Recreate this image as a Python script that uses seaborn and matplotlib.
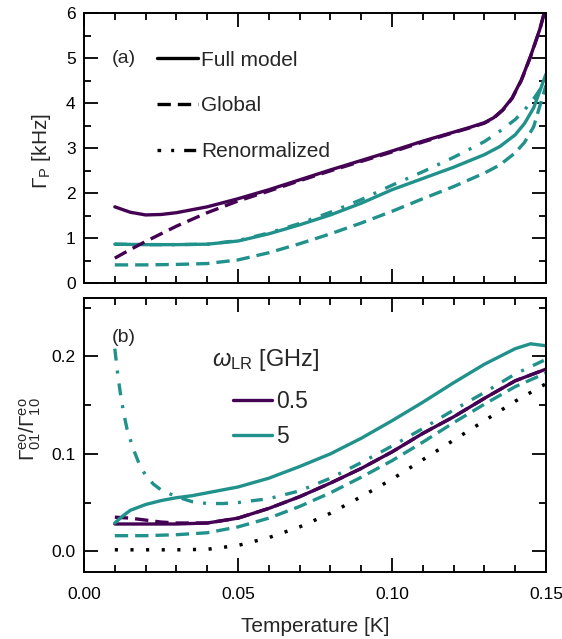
import numpy as np
import pandas as pd
import matplotlib
matplotlib.use("Agg")
import matplotlib.pyplot as plt
from matplotlib.lines import Line2D
from matplotlib.ticker import MultipleLocator, FormatStrFormatter
import seaborn as sns

sns.set_theme(style="ticks")
plt.rcParams["font.family"] = ["Liberation Sans", "DejaVu Sans"]
plt.rcParams["mathtext.fontset"] = "custom"
plt.rcParams["mathtext.rm"] = "Liberation Sans"
plt.rcParams["mathtext.it"] = "Liberation Sans:italic"
plt.rcParams["mathtext.bf"] = "Liberation Sans:bold"

PURPLE = "#440154"
TEAL = "#21918c"

# ---------------- panel (a): Gamma_P [kHz] ----------------
T_a = [0.010, 0.015, 0.020, 0.025, 0.030, 0.040, 0.050, 0.060, 0.070, 0.080,
       0.090, 0.100, 0.110, 0.120, 0.125, 0.130, 0.133, 0.136, 0.139, 0.142,
       0.145, 0.148, 0.150]
a_full_05 = [1.70, 1.58, 1.52, 1.53, 1.57, 1.70, 1.88, 2.08, 2.30, 2.52,
             2.73, 2.94, 3.16, 3.36, 3.46, 3.57, 3.68, 3.86, 4.12, 4.52,
             5.05, 5.65, 6.15]
a_glob_05 = [0.56, 0.75, 0.93, 1.10, 1.27, 1.57, 1.83, 2.05, 2.28, 2.50,
             2.71, 2.92, 3.14, 3.35, 3.45, 3.56, 3.67, 3.85, 4.11, 4.51,
             5.04, 5.64, 6.15]

T_a2 = [0.010, 0.020, 0.030, 0.040, 0.050, 0.060, 0.070, 0.080, 0.090, 0.100,
        0.110, 0.120, 0.130, 0.135, 0.140, 0.143, 0.146, 0.150]
a_full_5 = [0.87, 0.86, 0.86, 0.87, 0.94, 1.10, 1.30, 1.52, 1.78, 2.08,
            2.33, 2.58, 2.86, 3.04, 3.30, 3.55, 3.90, 4.65]
a_glob_5 = [0.41, 0.41, 0.42, 0.44, 0.52, 0.68, 0.88, 1.10, 1.34, 1.60,
            1.88, 2.15, 2.45, 2.63, 2.90, 3.13, 3.48, 4.40]
a_renorm_5 = [0.87, 0.86, 0.86, 0.87, 0.95, 1.12, 1.33, 1.58, 1.86, 2.18,
              2.48, 2.80, 3.15, 3.38, 3.64, 3.85, 4.10, 4.50]

# ---------------- panel (b): Gamma01/Gamma10 ----------------
T_b = [0.010, 0.020, 0.030, 0.040, 0.050, 0.060, 0.070, 0.080, 0.090, 0.100,
       0.110, 0.120, 0.130, 0.140, 0.150]
b_full_05 = [0.028, 0.028, 0.028, 0.029, 0.034, 0.044, 0.056, 0.070, 0.085,
             0.102, 0.121, 0.138, 0.157, 0.175, 0.187]
b_glob_05_T = [0.010, 0.015, 0.020, 0.025, 0.030, 0.040, 0.050, 0.060, 0.070,
               0.080, 0.090, 0.100, 0.110, 0.120, 0.130, 0.140, 0.150]
b_glob_05 = [0.035, 0.034, 0.032, 0.030, 0.029, 0.029, 0.034, 0.044, 0.056,
             0.070, 0.085, 0.102, 0.121, 0.138, 0.157, 0.175, 0.187]

b_full_5_T = [0.010, 0.0125, 0.015, 0.020, 0.025, 0.030, 0.035, 0.040, 0.050,
              0.060, 0.070, 0.080, 0.090, 0.100, 0.110, 0.120, 0.130, 0.140,
              0.145, 0.150]
b_full_5 = [0.029, 0.036, 0.042, 0.048, 0.052, 0.055, 0.057, 0.060, 0.066,
            0.075, 0.087, 0.100, 0.116, 0.134, 0.153, 0.173, 0.192, 0.208,
            0.213, 0.211]
b_glob_5 = [0.016, 0.016, 0.017, 0.019, 0.025, 0.034, 0.046, 0.060, 0.076,
            0.093, 0.112, 0.132, 0.151, 0.169, 0.183]
b_renorm_5_T = [0.010, 0.011, 0.012, 0.013, 0.014, 0.016, 0.018, 0.020, 0.0225,
                0.025, 0.030, 0.035, 0.040, 0.045, 0.050, 0.060, 0.070, 0.080,
                0.090, 0.100, 0.110, 0.120, 0.130, 0.140, 0.150]
b_renorm_5 = [0.208, 0.180, 0.158, 0.140, 0.125, 0.105, 0.089, 0.078, 0.069,
              0.063, 0.056, 0.051, 0.049, 0.049, 0.050, 0.054, 0.062, 0.075,
              0.091, 0.108, 0.126, 0.145, 0.163, 0.182, 0.197]
b_dotted = [0.0015, 0.0015, 0.0015, 0.002, 0.006, 0.014, 0.025, 0.039, 0.056,
            0.074, 0.094, 0.114, 0.134, 0.154, 0.172]

LW = 2.4
SOLID = "-"
DASHED = (0, (4.0, 2.1))
DASHDOT = (0, (3.6, 3.0, 0.9, 3.0))
DOTTED = (0, (0.9, 3.6))
TICK_FS = 12.5

fig = plt.figure(figsize=(5.62, 6.39), dpi=100)
ax1 = fig.add_axes([0.1495, 0.5566, 0.822, 0.4225])
ax2 = fig.add_axes([0.1495, 0.1053, 0.822, 0.4283])


def has_tick():
    fig.canvas.draw()
    img = np.asarray(fig.canvas.buffer_rgba())[:, :, :3].astype(float) / 255.0
    H = img.shape[0]
    x, y = ax1.transData.transform((0.0, 5.0))
    row = int(round(H - y))
    xs = int(round(x))
    return bool(img[row - 1:row + 2, xs + 4:xs + 10].mean() < 0.6)


def line(ax, x, y, color, ls, lw=LW):
    sns.lineplot(x=x, y=y, ax=ax, color=color, linestyle=ls, lw=lw,
                 estimator=None, sort=False, legend=False)


def style_ticks():
    for ax in (ax1, ax2):
        ax.tick_params(which="both", direction="in", top=True, right=True,
                       bottom=True, left=True, width=1.3, color="black")
        ax.tick_params(which="major", length=10, labelcolor="black",
                       labelsize=TICK_FS)
        ax.tick_params(which="minor", length=5)
        ax.tick_params(axis="y", which="major", pad=6)
        ax.tick_params(axis="x", which="major", pad=11)
        for axis in (ax.xaxis, ax.yaxis):
            for t in axis.get_major_ticks() + axis.get_minor_ticks():
                t.tick1line.set_visible(True)
                t.tick2line.set_visible(True)
    ax1.tick_params(axis="x", labelbottom=False)


steps = []


def s_lines():
    line(ax1, T_a2, a_glob_5, TEAL, DASHED)
    line(ax1, T_a2, a_renorm_5, TEAL, DASHDOT)
    line(ax1, T_a2, a_full_5, TEAL, SOLID)
    line(ax1, T_a, a_glob_05, PURPLE, DASHED)
    line(ax1, T_a, a_full_05, PURPLE, SOLID)
    line(ax2, T_b, b_dotted, "black", DOTTED, lw=2.5)
    line(ax2, T_b, b_glob_5, TEAL, DASHED)
    line(ax2, b_renorm_5_T, b_renorm_5, TEAL, DASHDOT)
    line(ax2, b_glob_05_T, b_glob_05, PURPLE, DASHED)
    line(ax2, T_b, b_full_05, PURPLE, SOLID)
    line(ax2, b_full_5_T, b_full_5, TEAL, SOLID)


def s_axes():
    ax1.set_ylim(0, 6)
    ax2.set_ylim(-0.021, 0.26)
    for ax in (ax1, ax2):
        ax.set_xlim(0, 0.15)
        ax.xaxis.set_major_locator(MultipleLocator(0.05))
        ax.xaxis.set_minor_locator(MultipleLocator(0.01))
        for s in ax.spines.values():
            s.set_linewidth(1.4)
            s.set_color("black")
            s.set_visible(True)
    ax1.yaxis.set_major_locator(MultipleLocator(1))
    ax1.yaxis.set_minor_locator(MultipleLocator(0.5))
    ax2.yaxis.set_major_locator(MultipleLocator(0.1))
    ax2.yaxis.set_minor_locator(MultipleLocator(0.05))
    ax2.yaxis.set_major_formatter(FormatStrFormatter("%.1f"))
    ax2.xaxis.set_major_formatter(FormatStrFormatter("%.2f"))
    style_ticks()


def s_labels():
    ax1.set_xlabel("")
    ax1.set_ylabel(r"$\Gamma_{\rm P}$ [kHz]", fontsize=15)
    ax1.yaxis.set_label_coords(-0.067, 0.49)
    ax2.set_ylabel(r"$\Gamma^{\rm eo}_{01}/\Gamma^{\rm eo}_{10}$", fontsize=15)
    ax2.yaxis.set_label_coords(-0.089, 0.52)
    ax2.set_xlabel("Temperature [K]", fontsize=15, labelpad=11)


def s_texts():
    ax1.text(0.06, 0.832, "(a)", transform=ax1.transAxes, fontsize=14, va="center")
    ax2.text(0.06, 0.854, "(b)", transform=ax2.transAxes, fontsize=14, va="center")
    ax2.text(0.276, 0.7516, r"$\omega_{\rm LR}$ [GHz]", transform=ax2.transAxes,
             fontsize=17, va="baseline")


def s_legends():
    h_a = [Line2D([], [], color="black", lw=LW, linestyle=SOLID),
           Line2D([], [], color="black", lw=LW, linestyle=DASHED),
           Line2D([], [], color="black", lw=LW,
                  linestyle=(2.5, (3.6, 3.0, 0.9, 3.0)))]
    ax1.legend(h_a, ["Full model", "Global", "Renormalized"], loc="upper left",
               bbox_to_anchor=(0.158, 0.862), frameon=False, fontsize=15,
               handlelength=1.97, handletextpad=0.15, labelspacing=1.28,
               borderpad=0, borderaxespad=0)
    h_b = [Line2D([], [], color=PURPLE, lw=LW), Line2D([], [], color=TEAL, lw=LW)]
    ax2.legend(h_b, ["0.5", "5"], loc="upper left",
               bbox_to_anchor=(0.3225, 0.665), frameon=False, fontsize=16.5,
               handlelength=1.68, handletextpad=0.2, labelspacing=0.55,
               borderpad=0, borderaxespad=0)


log = []
for name, fn in [("axes", s_axes), ("lines", s_lines), ("labels", s_labels),
                 ("texts", s_texts), ("legends", s_legends)]:
    fn()
    log.append((name, has_tick()))

style_ticks()
ok = has_tick()
fig.savefig("out.png", dpi=100)
if not ok:
    raise SystemExit("DEBUG ticks missing: " + repr(log) + " " + repr(plt.rcParams["axes.axisbelow"]))
